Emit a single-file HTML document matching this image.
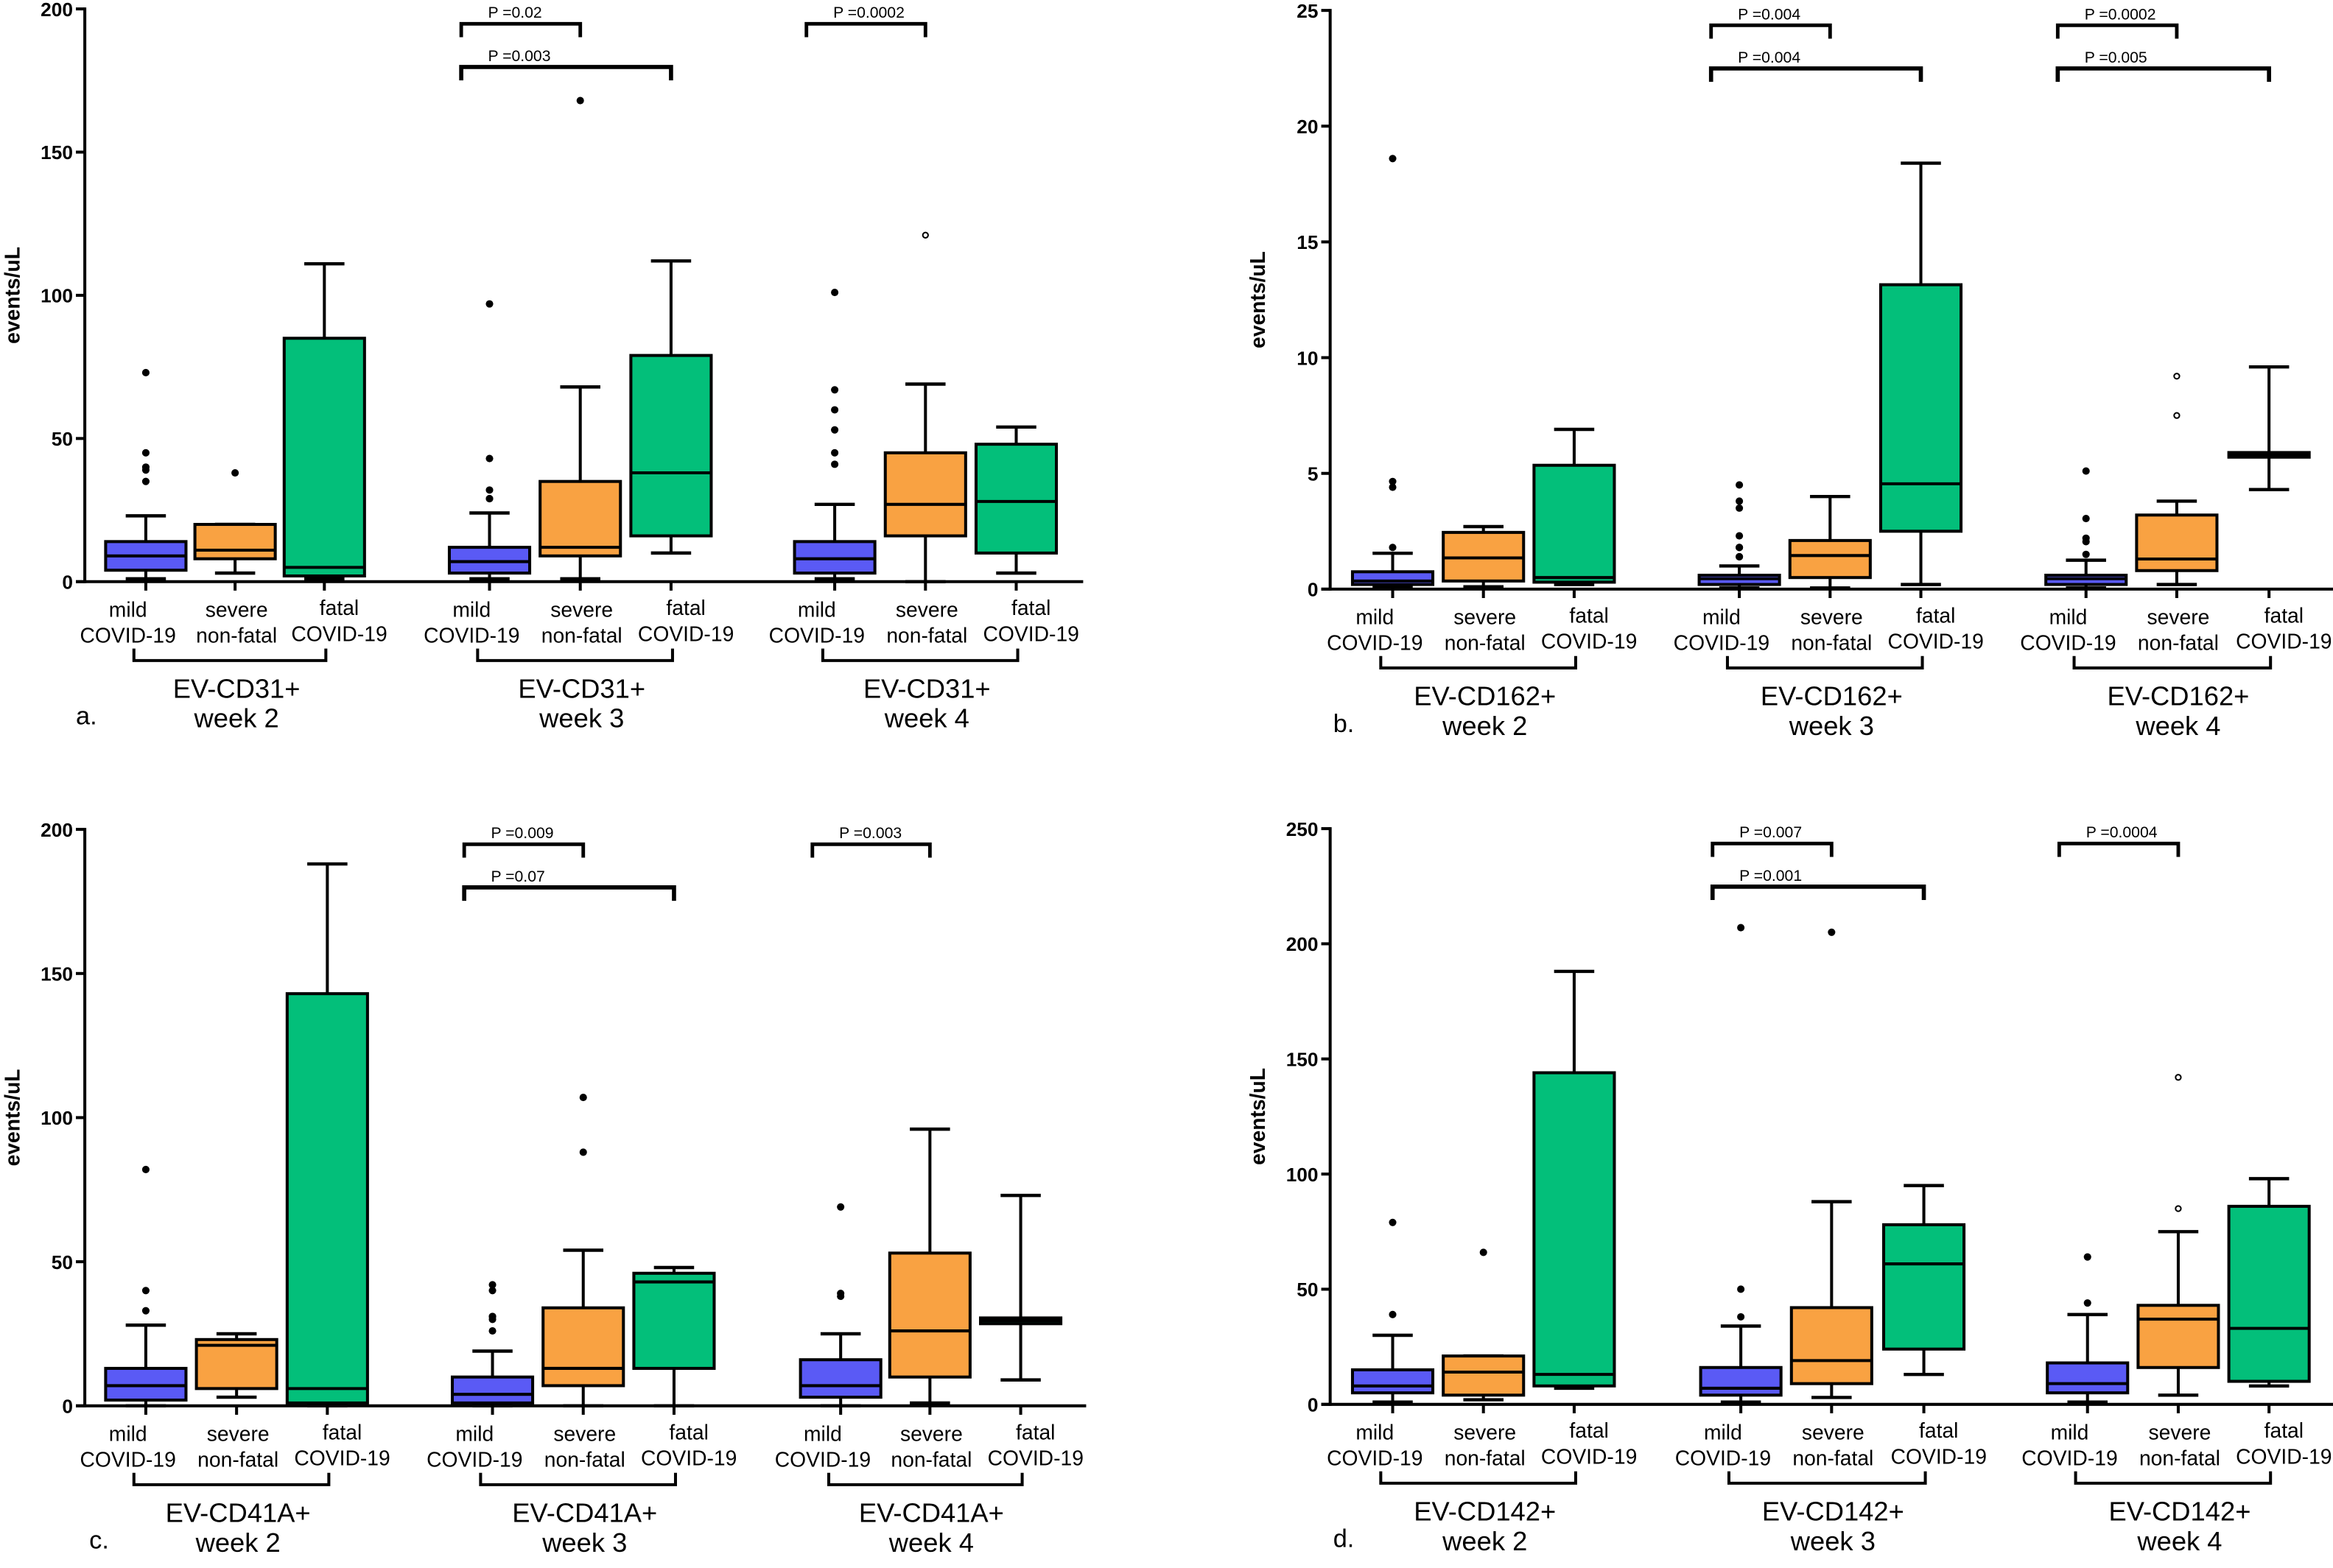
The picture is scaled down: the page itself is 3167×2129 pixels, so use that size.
<!DOCTYPE html>
<html><head><meta charset="utf-8"><title>EV box plots</title>
<style>
html,body{margin:0;padding:0;background:#fff;}
svg{display:block;}
text{font-family:"Liberation Sans",Arial,sans-serif;fill:#000;}
</style></head>
<body>
<svg id="fig" xmlns="http://www.w3.org/2000/svg" width="3167" height="2129" viewBox="0 0 1568 1054" preserveAspectRatio="none"></svg>
<script>
// ---------- data (per panel, order: w2 mild, w2 severe, w2 fatal, w3 ..., w4 ...) ----------
const groupNames = ["mild", "severe", "fatal"];
const weeks = ["week 2", "week 3", "week 4"];

const aMarkers = ["EV-CD31+"];
const aTicks = [0, 50, 100, 150, 200];
const aLo  = [1, 3, 1,   1, 1, 10,   1, 0, 3];
const aQ1  = [4, 8, 2,   3, 9, 16,   3, 16, 10];
const aMed = [9, 11, 5,  7, 12, 38,  8, 27, 28];
const aQ3  = [14, 20, 85, 12, 35, 79, 14, 45, 48];
const aHi  = [23, 20, 111, 24, 68, 112, 27, 69, 54];
const aOut = [[73,45,40,39,35],[38],[], [97,43,32,29,29],[168],[], [101,67,60,53,45,41],[],[]];
const aHollow = [[],[],[], [],[],[], [],[121],[]];

const bMarkers = ["EV-CD162+"];
const bTicks = [0, 5, 10, 15, 20, 25];
const bLo  = [0.1, 0.1, 0.2,  0.05, 0.05, 0.2,  0.05, 0.2, 4.3];
const bQ1  = [0.2, 0.35, 0.3, 0.2, 0.5, 2.5,   0.2, 0.8, 5.7];
const bMed = [0.35, 1.35, 0.5, 0.45, 1.45, 4.55, 0.45, 1.3, 5.8];
const bQ3  = [0.75, 2.45, 5.35, 0.6, 2.1, 13.15, 0.6, 3.2, 5.9];
const bHi  = [1.55, 2.7, 6.9, 1.0, 4.0, 18.4, 1.25, 3.8, 9.6];
const bOut = [[18.6,4.65,4.4,1.8],[],[], [4.5,3.8,3.5,2.3,1.8,1.8,1.4,1.4],[],[], [5.1,3.05,2.2,2.05,1.5],[],[]];
const bHollow = [[],[],[], [],[],[], [],[9.2,7.5],[]];

const cMarkers = ["EV-CD41A+"];
const cTicks = [0, 50, 100, 150, 200];
const cLo  = [0, 3, 0,   0, 0, 0,    0, 1, 9];
const cQ1  = [2, 6, 1,   1, 7, 13,   3, 10, 28.5];
const cMed = [7, 21, 6,  4, 13, 43,  7, 26, 29.5];
const cQ3  = [13, 23, 143, 10, 34, 46, 16, 53, 30.5];
const cHi  = [28, 25, 188, 19, 54, 48, 25, 96, 73];
const cOut = [[82,40,33],[],[], [42,40,31,31,30,26],[107,88],[], [69,39,38],[],[]];
const cHollow = [[],[],[], [],[],[], [],[],[]];

const dMarkers = ["EV-CD142+"];
const dTicks = [0, 50, 100, 150, 200, 250];
const dLo  = [1, 2, 7,   1, 3, 13,   1, 4, 8];
const dQ1  = [5, 4, 8,   4, 9, 24,   5, 16, 10];
const dMed = [8, 14, 13, 7, 19, 61,  9, 37, 33];
const dQ3  = [15, 21, 144, 16, 42, 78, 18, 43, 86];
const dHi  = [30, 21, 188, 34, 88, 95, 39, 75, 98];
const dOut = [[79,39],[66],[], [207,50,38],[205],[], [64,44],[],[]];
const dHollow = [[],[],[], [],[],[], [],[142,85],[]];

const aP = [["P =0.02",1,1],["P =0.003",1,2],["P =0.0002",2,1]];
const bP = [["P =0.004",1,1],["P =0.004",1,2],["P =0.0002",2,1],["P =0.005",2,2]];
const cP = [["P =0.009",1,1],["P =0.07",1,2],["P =0.003",2,1]];
const dP = [["P =0.007",1,1],["P =0.001",1,2],["P =0.0004",2,1]];

// ---------- layout ----------
const panels = [
 {id:"a", letter:"a.", ax:57, xEnd:728, top:6, zero:391, max:200, centers:[98,158,218,329,390,451,561,622,683], marker:aMarkers, ticks:aTicks, lo:aLo,q1:aQ1,med:aMed,q3:aQ3,hi:aHi,out:aOut,hol:aHollow,p:aP, lx:51},
 {id:"b", letter:"b.", ax:894, xEnd:1568, top:7, zero:396, max:25, centers:[936,997,1058,1169,1230,1291,1402,1463,1525], marker:bMarkers, ticks:bTicks, lo:bLo,q1:bQ1,med:bMed,q3:bQ3,hi:bHi,out:bOut,hol:bHollow,p:bP, lx:896},
 {id:"c", letter:"c.", ax:57, xEnd:730, top:557.5, zero:945, max:200, centers:[98,159,220,331,392,453,565,625,686], marker:cMarkers, ticks:cTicks, lo:cLo,q1:cQ1,med:cMed,q3:cQ3,hi:cHi,out:cOut,hol:cHollow,p:cP, lx:60},
 {id:"d", letter:"d.", ax:894, xEnd:1568, top:557, zero:944, max:250, centers:[936,997,1058,1170,1231,1293,1403,1464,1525], marker:dMarkers, ticks:dTicks, lo:dLo,q1:dQ1,med:dMed,q3:dQ3,hi:dHi,out:dOut,hol:dHollow,p:dP, lx:896}
];
const fills = ["#5a5af5","#f9a242","#03bf7a"];
const NS = "http://www.w3.org/2000/svg";
const svg = document.getElementById("fig");

function mk(tag, attrs, parent){
  const e = document.createElementNS(NS, tag);
  for (const k in attrs) e.setAttribute(k, attrs[k]);
  parent.appendChild(e);
  return e;
}
function txt(parent, x, y, s, size, anchor, weight){
  const t = mk("text", {x:x, y:y, "font-size":size, "text-anchor":anchor||"middle", "font-weight":weight||"normal"}, parent);
  t.textContent = s;
  return t;
}

panels.forEach(P => {
  const g = mk("g", {}, svg);
  
  
  const y = v => P.zero - v / P.max * (P.zero - P.top);

  const yax = mk("g", {}, g);
  
  
  mk("line", {x1:P.ax, y1:P.top-1, x2:P.ax, y2:P.zero+1, stroke:"#000","stroke-width":2}, yax);
  P.ticks.forEach(t => {
    const yy = y(t);
    mk("line", {x1:P.ax-6, y1:yy, x2:P.ax, y2:yy, stroke:"#000","stroke-width":2}, yax);
    const tl = txt(yax, P.ax-8, yy+4.8, String(t), 13, "end", "bold");
    
    
  });
  const mid = (P.top + P.zero) / 2;
  const yt = txt(g, P.ax-44, mid, "events/uL", 14, "middle", "bold");
  yt.setAttribute("transform", "rotate(-90 " + (P.ax-44) + " " + mid + ")");
  
  

  const xax = mk("g", {}, g);
  
  
  mk("line", {x1:P.ax-6, y1:P.zero, x2:P.xEnd, y2:P.zero, stroke:"#000","stroke-width":2}, xax);

  for (let i = 0; i < 9; i++){
    const cx = P.centers[i], k = i % 3;
    const bg = mk("g", {}, g);
    
    
    const hw = 27, cap = 13.5;
    mk("line", {x1:cx, y1:y(P.hi[i]), x2:cx, y2:y(P.q3[i]), stroke:"#000","stroke-width":2}, bg);
    mk("line", {x1:cx, y1:y(P.q1[i]), x2:cx, y2:y(P.lo[i]), stroke:"#000","stroke-width":2}, bg);
    mk("line", {x1:cx-cap, y1:y(P.hi[i]), x2:cx+cap, y2:y(P.hi[i]), stroke:"#000","stroke-width":2.2}, bg);
    mk("line", {x1:cx-cap, y1:y(P.lo[i]), x2:cx+cap, y2:y(P.lo[i]), stroke:"#000","stroke-width":2.2}, bg);
    const yt3 = y(P.q3[i]), yt1 = y(P.q1[i]);
    mk("rect", {x:cx-hw, y:yt3, width:2*hw, height:Math.max(yt1-yt3,1), fill:fills[k], stroke:"#000","stroke-width":2}, bg);
    mk("line", {x1:cx-hw, y1:y(P.med[i]), x2:cx+hw, y2:y(P.med[i]), stroke:"#000","stroke-width":2}, bg);
    P.out[i].forEach(v => {
      const c = mk("circle", {cx:cx, cy:y(v), r:2.5, fill:"#000"}, bg);
      
      
    });
    P.hol[i].forEach(v => {
      const c = mk("circle", {cx:cx, cy:y(v), r:1.8, fill:"#fff", stroke:"#000","stroke-width":1}, bg);
      
      
    });
    mk("line", {x1:cx, y1:P.zero, x2:cx, y2:P.zero+6, stroke:"#000","stroke-width":2}, xax);
    const off = [-12, 1, 10][k];
    const l1 = ["mild","severe","fatal"][k], l2 = ["COVID-19","non-fatal","COVID-19"][k];
    const dy = k === 2 ? -1 : 0;
    const cl = txt(xax, cx+off, P.zero+23.5+dy, l1, 14);
    
    
    const cl2 = txt(xax, cx+off, P.zero+41+dy, l2, 14);
    
    
  }

  for (let w = 0; w < 3; w++){
    const c1 = P.centers[w*3], c2 = P.centers[w*3+1], c3 = P.centers[w*3+2];
    const gb = mk("g", {}, g);
    
    
    mk("polyline", {points:(c1-8)+","+(P.zero+45)+" "+(c1-8)+","+(P.zero+53)+" "+(c3+1)+","+(P.zero+53)+" "+(c3+1)+","+(P.zero+45), fill:"none", stroke:"#000","stroke-width":2}, gb);
    const gl = txt(gb, c2+1, P.zero+78, P.marker[0], 18);
    
    
    const gw = txt(gb, c2+1, P.zero+98, weeks[w], 18);
    
    
  }

  P.p.forEach(pp => {
    const w = pp[1], row = pp[2];
    const x1 = P.centers[w*3] - 19, x2 = P.centers[w*3+row];
    const by = P.top + (row === 1 ? 10 : 39);
    const sg = mk("g", {}, g);
    
    
    mk("polyline", {points:x1+","+(by+9)+" "+x1+","+by+" "+x2+","+by+" "+x2+","+(by+9), fill:"none", stroke:"#000","stroke-width":row===1?2.4:2.8}, sg);
    const pt = txt(sg, x1+18, by-4, pp[0], 10.5, "start");
    
    
  });

  const lt = txt(g, P.lx, P.zero+96, P.letter, 17, "start");
  
  
});
</script>
</body></html>
